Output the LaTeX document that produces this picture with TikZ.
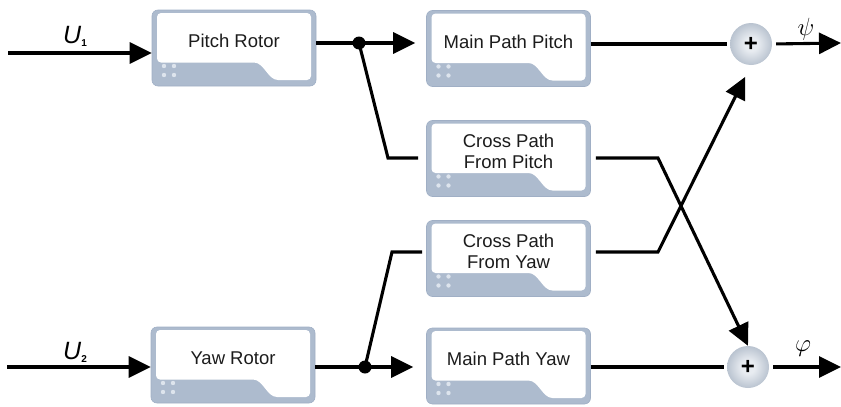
\documentclass[tikz,border=0pt]{standalone}
\usepackage{fontspec}
\setmainfont{Liberation Sans}
\usetikzlibrary{arrows.meta,calc}

\definecolor{blkshade}{HTML}{ADBBCE}
\definecolor{blkedge}{HTML}{A0AFC5}
\definecolor{blkdot}{HTML}{DDE4ED}
\definecolor{txt}{HTML}{1C1C1C}
\definecolor{ballA}{HTML}{E8ECF1}
\definecolor{ballB}{HTML}{B7C1CE}
\definecolor{ballC}{HTML}{8592A6}
\definecolor{ballD}{HTML}{65748C}
\pgfdeclareradialshading{sumball}{\pgfpoint{0bp}{0bp}}{color(0bp)=(ballA); color(8bp)=(ballA); color(26bp)=(ballB); color(40bp)=(ballC); color(50bp)=(ballD)}

\tikzset{
  blk/.style={rectangle, rounded corners=6pt, fill=blkshade, draw=blkedge, line width=0.6pt,
    minimum width=164pt, minimum height=76pt, inner sep=0pt,
    path picture={
      \begin{scope}[shift={(path picture bounding box.center)}]
        \fill[white, rounded corners=4pt] (-77pt,35pt) -- (77pt,35pt) -- (77pt,-32pt) -- (48pt,-32pt)
          .. controls (34pt,-32pt) and (30pt,-14.5pt) .. (16pt,-14.5pt) -- (-77pt,-14.5pt) -- cycle;
        \fill[blkdot] (-70pt,-18pt) circle (2.2pt) (-60pt,-18pt) circle (2.2pt)
                      (-70pt,-27pt) circle (2.2pt) (-60pt,-27pt) circle (2.2pt);
      \end{scope}}},
  blktxt/.style={font=\fontsize{18.5}{21.5}\selectfont, text=txt, align=center, inner sep=0pt, yshift=7pt},
  sum/.style={circle, minimum size=42pt, inner sep=0pt, shading=sumball, text=black,
    font=\fontsize{24}{24}\selectfont\bfseries},
  ln/.style={line width=3.1pt, black},
  arr/.style={ln, -{Triangle[length=22pt,width=21pt]}},
  sig/.style={inner sep=0pt, text=black},
}

\begin{document}
\begin{tikzpicture}[x=1pt, y=-1pt]
  \useasboundingbox (0,0) rectangle (841,407);

  % blocks
  \node[blk, label={[blktxt]center:Pitch Rotor}] (pr) at (234,48) {};
  \node[blk, label={[blktxt]center:Main Path Pitch}] (mpp) at (508.5,48.5) {};
  \node[blk, label={[blktxt]center:{Cross Path\\From Pitch}}] (cpp) at (508.5,158.5) {};
  \node[blk, label={[blktxt]center:{Cross Path\\From Yaw}}] (cpy) at (508.5,258.5) {};
  \node[blk, label={[blktxt]center:Yaw Rotor}] (yr) at (233,365) {};
  \node[blk, label={[blktxt]center:Main Path Yaw}] (mpy) at (508.5,366) {};

  % summing junctions
  \node[sum] (s1) at (751,44) {+};
  \node[sum] (s2) at (748,367) {+};

  % routing points
  \coordinate (i1) at (8,53);
  \coordinate (i2) at (7,367);
  \coordinate (j1) at (359,43);
  \coordinate (b1) at (388,158);
  \coordinate (j2) at (365,367);
  \coordinate (b2) at (392,252);
  \coordinate (c1) at (658,158);
  \coordinate (c2) at (658,252);
  \coordinate (o1) at (841,43);
  \coordinate (o2) at (841,367);

  % inputs
  \draw[arr] (i1) -- (pr.west |- i1);
  \draw[arr] (i2) -- (yr.west |- i2);

  % pitch branch
  \draw[ln] (pr.east |- j1) -- (j1);
  \draw[arr, shorten >=11pt] (j1) -- (mpp.west |- j1);
  \draw[ln, shorten >=8pt] (j1) -- (b1) -- (cpp.west |- b1);
  \fill (j1) circle (6.5pt);

  % yaw branch
  \draw[ln] (yr.east |- j2) -- (j2);
  \draw[arr, shorten >=13pt] (j2) -- (mpy.west |- j2);
  \draw[ln, shorten >=4pt] (j2) -- (b2) -- (cpy.west |- b2);
  \fill (j2) circle (6.5pt);

  % cross couplings
  \draw[arr, shorten <=5pt] (cpp.east |- c1) -- (c1) -- (s2.north);
  \draw[arr, shorten <=5pt, shorten >=13pt] (cpy.east |- c2) -- (c2) -- (s1.south);

  % main paths and outputs
  \draw[ln, shorten >=3pt] (mpp.east |- s1) -- (s1.west);
  \draw[ln, shorten >=3pt] (mpy.east |- s2) -- (s2.west);
  \draw[arr, shorten <=4pt] (s1.east) -- (o1);
  \draw[arr, shorten <=4pt] (s2.east) -- (o2);

  % signal labels
  \node[sig, anchor=base west] (u1) at (63,43) {\fontsize{25}{25}\selectfont\itshape U\raisebox{-3pt}{\fontsize{10}{10}\selectfont\upshape\bfseries 1}};
  \node[sig, anchor=base west] (u2) at (63,359) {\fontsize{25}{25}\selectfont\itshape U\raisebox{-3pt}{\fontsize{10}{10}\selectfont\upshape\bfseries 2}};
  \node[sig] (psi) at (806,29) {\fontsize{24}{24}\selectfont$\psi$};
  \node[sig] (phi) at (803,349) {\fontsize{24}{24}\selectfont$\varphi$};
\end{tikzpicture}
\end{document}
